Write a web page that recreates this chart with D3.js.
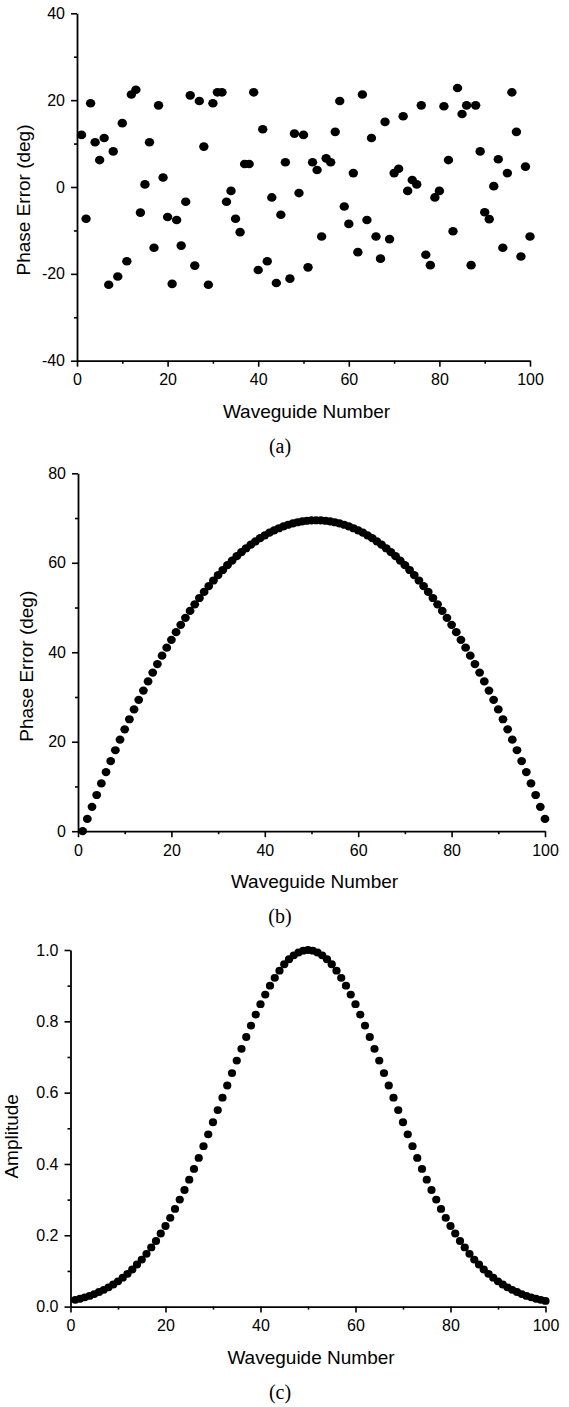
<!DOCTYPE html>
<html><head><meta charset="utf-8">
<script src="https://cdn.jsdelivr.net/npm/d3@7"></script>
<style>
body{margin:0;background:#fff;}
svg{display:block;}
</style></head><body>
<svg id="chart" width="569" height="1407"></svg>
<script>
// ---------- data ----------
const waveguideNumber = [1,2,3,4,5,6,7,8,9,10,11,12,13,14,15,16,17,18,19,20,
  21,22,23,24,25,26,27,28,29,30,31,32,33,34,35,36,37,38,39,40,
  41,42,43,44,45,46,47,48,49,50,51,52,53,54,55,56,57,58,59,60,
  61,62,63,64,65,66,67,68,69,70,71,72,73,74,75,76,77,78,79,80,
  81,82,83,84,85,86,87,88,89,90,91,92,93,94,95,96,97,98,99,100];

// (a) random phase error (deg)
const phaseErrorRandom = [12.0,-7.3,19.3,10.3,6.2,11.3,-22.5,8.2,-20.6,14.7,
  -17.1,21.3,22.4,-5.9,0.6,10.3,-14.0,18.8,2.2,-6.9,
  -22.3,-7.6,-13.5,-3.4,21.1,-18.1,19.8,9.3,-22.5,19.3,
  21.8,21.8,-3.4,-0.9,-7.3,-10.4,5.3,5.3,21.8,-19.1,
  13.3,-17.1,-2.4,-22.1,-6.4,5.7,-21.1,12.3,-1.4,12.0,
  -18.5,5.7,3.9,-11.4,6.6,5.7,12.7,19.8,-4.5,-8.5,
  3.2,-15.0,21.3,-7.6,11.3,-11.4,-16.5,15.0,-12.0,3.2,
  4.2,16.3,-0.9,1.6,0.6,18.8,-15.6,-18.0,-2.4,-0.9,
  18.6,6.2,-10.2,22.8,16.8,18.8,-18.0,18.8,8.2,-5.8,
  -7.4,0.2,6.4,-14.0,3.2,21.8,12.7,-16.0,4.7,-11.4];

// (b) systematic phase error (deg)
const phaseErrorSystematic = [0,2.75,5.45,8.09,10.68,13.21,15.68,18.10,20.46,22.77,
  25.02,27.22,29.36,31.44,33.47,35.45,37.36,39.23,41.03,42.78,
  44.48,46.12,47.70,49.23,50.71,52.13,53.49,54.79,56.04,57.24,
  58.38,59.46,60.49,61.47,62.38,63.25,64.05,64.80,65.50,66.14,
  66.72,67.25,67.72,68.14,68.50,68.81,69.06,69.25,69.39,69.47,
  69.50,69.47,69.39,69.25,69.06,68.81,68.50,68.14,67.72,67.25,
  66.72,66.14,65.50,64.80,64.05,63.25,62.38,61.47,60.49,59.46,
  58.38,57.24,56.04,54.79,53.49,52.13,50.71,49.23,47.70,46.12,
  44.48,42.78,41.03,39.23,37.36,35.45,33.47,31.44,29.36,27.22,
  25.02,22.77,20.46,18.10,15.68,13.21,10.68,8.09,5.45,2.75];

// (c) amplitude
const amplitude = [0.019,0.022,0.026,0.030,0.035,0.041,0.047,0.054,0.062,0.071,
  0.081,0.092,0.104,0.118,0.132,0.148,0.166,0.184,0.205,0.226,
  0.249,0.274,0.300,0.327,0.356,0.386,0.417,0.450,0.483,0.517,
  0.551,0.586,0.620,0.655,0.690,0.723,0.756,0.788,0.819,0.848,
  0.875,0.900,0.922,0.942,0.960,0.974,0.985,0.993,0.998,1.000,
  0.998,0.993,0.985,0.974,0.960,0.942,0.922,0.900,0.875,0.848,
  0.819,0.788,0.756,0.723,0.690,0.655,0.620,0.586,0.551,0.517,
  0.483,0.450,0.417,0.386,0.356,0.327,0.300,0.274,0.249,0.226,
  0.205,0.184,0.166,0.148,0.132,0.118,0.104,0.092,0.081,0.071,
  0.062,0.054,0.047,0.041,0.035,0.030,0.026,0.022,0.019,0.016];

const xMajorTicks = [0,20,40,60,80,100];
const xMinorTicks = [10,30,50,70,90];
const yTicksA = [-40,-20,0,20,40], yMinorA = [-30,-10,10,30];
const yTicksB = [0,20,40,60,80], yMinorB = [10,30,50,70];
const yTicksC = [0,0.2,0.4,0.6,0.8,1.0], yMinorC = [0.1,0.3,0.5,0.7,0.9];
const xTitle = "Waveguide Number";
const yTitles = ["Phase Error (deg)", "Phase Error (deg)", "Amplitude"];
const captions = ["(a)", "(b)", "(c)"];

// ---------- drawing ----------
const svg = d3.select("#chart");
const sans = "Arial, 'Liberation Sans', Helvetica, sans-serif";
const serif = "'Times New Roman', 'Liberation Serif', Times, serif";

function styleAxis(sel){
  sel.select(".domain").attr("stroke","#000").attr("stroke-width",1.8);
  sel.selectAll(".tick line").attr("stroke","#000").attr("stroke-width",1.6);
  sel.selectAll(".tick text").attr("fill","#000").style("font-family",sans).style("font-size","16px");
}

function drawPanel(p){
  const x = d3.scaleLinear().domain([0,100]).range([p.x0,p.x1]);
  const y = d3.scaleLinear().domain(p.yDomain).range([p.yb,p.yt]);
  const g = svg.append("g");

  // minor ticks
  g.append("g").attr("transform",`translate(0,${p.yb})`)
    .call(d3.axisBottom(x).tickValues(xMinorTicks).tickSize(3).tickFormat("").tickSizeOuter(0))
    .call(s=>{s.select(".domain").remove(); s.selectAll("line").attr("stroke","#000").attr("stroke-width",1.6);});
  g.append("g").attr("transform",`translate(${p.x0},0)`)
    .call(d3.axisLeft(y).tickValues(p.yMinor).tickSize(3).tickFormat("").tickSizeOuter(0))
    .call(s=>{s.select(".domain").remove(); s.selectAll("line").attr("stroke","#000").attr("stroke-width",1.6);});

  // major axes
  g.append("g").attr("transform",`translate(0,${p.yb})`)
    .call(d3.axisBottom(x).tickValues(xMajorTicks).tickSize(6).tickPadding(7).tickSizeOuter(0).tickFormat(d=>String(d)))
    .call(styleAxis);
  g.append("g").attr("transform",`translate(${p.x0},0)`)
    .call(d3.axisLeft(y).tickValues(p.yTicks).tickSize(6).tickPadding(6).tickSizeOuter(0).tickFormat(p.fmt))
    .call(styleAxis);

  // points
  g.append("g").selectAll("ellipse").data(p.values).join("ellipse")
    .attr("cx",(d,i)=>x(waveguideNumber[i]))
    .attr("cy",d=>y(d))
    .attr("rx",p.rx).attr("ry",p.ry)
    .attr("fill","#000");

  // titles
  g.append("text").attr("x",(p.x0+p.x1)/2+3).attr("y",p.yb+57)
    .attr("text-anchor","middle").style("font-family",sans).style("font-size","19px")
    .text(xTitle);
  g.append("text").attr("transform",`translate(${p.ytx},${(p.yt+p.yb)/2+p.yty}) rotate(-90)`)
    .attr("text-anchor","middle").style("font-family",sans).style("font-size","19px")
    .text(p.yTitle);
  g.append("text").attr("x",280).attr("y",p.yb+92)
    .attr("text-anchor","middle").style("font-family",serif).style("font-size","20px")
    .text(p.caption);
}

drawPanel({x0:77, x1:530, yb:360.7, yt:13.3, yDomain:[-40,40], yTicks:yTicksA, yMinor:yMinorA,
  fmt:d=>String(d), values:phaseErrorRandom, rx:4.7, ry:4.3, ytx:29.5, yty:13,
  yTitle:yTitles[0], caption:captions[0]});
drawPanel({x0:78, x1:545, yb:831.2, yt:473.3, yDomain:[0,80], yTicks:yTicksB, yMinor:yMinorB,
  fmt:d=>String(d), values:phaseErrorSystematic, rx:4.4, ry:4.1, ytx:33, yty:14,
  yTitle:yTitles[1], caption:captions[1]});
drawPanel({x0:70.5, x1:545.5, yb:1306.6, yt:950, yDomain:[0,1], yTicks:yTicksC, yMinor:yMinorC,
  fmt:d=>d.toFixed(1), values:amplitude, rx:4.1, ry:3.9, ytx:18, yty:8,
  yTitle:yTitles[2], caption:captions[2]});
</script>
</body></html>
